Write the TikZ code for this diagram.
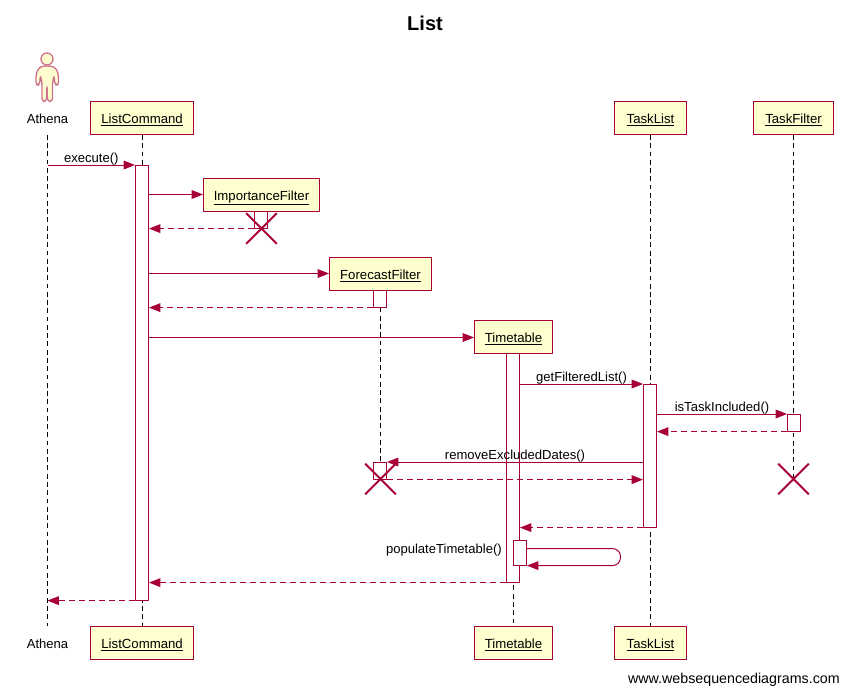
\documentclass[tikz,border=0pt]{standalone}
\usepackage{fontspec}
\setmainfont{Liberation Sans}
\usetikzlibrary{arrows.meta,shapes.misc}
\definecolor{seqline}{HTML}{A80036}
\definecolor{seqfill}{HTML}{FEFECE}
\tikzset{
  objbox/.style={draw=seqline, fill=seqfill, line width=0.75pt, minimum height=24.75pt, inner sep=0pt, text height=7.5pt, text depth=0pt, text=black, font=\fontsize{9.9}{12}\selectfont},
  actorname/.style={minimum height=24.75pt, inner sep=0pt, text height=7.5pt, text depth=0pt},
  actbar/.style={draw=seqline, fill=white, line width=0.75pt, minimum width=9.75pt, inner sep=0pt},
  lifeline/.style={black, line width=0.75pt, dash pattern=on 3.6pt off 2.6pt},
  msg/.style={seqline, line width=0.75pt, -{Triangle[length=8.5pt,width=6.5pt]}},
  reply/.style={msg, dash pattern=on 4.5pt off 3pt},
  killmark/.style={cross out, draw=seqline, line width=1.5pt, minimum size=21.5pt, inner sep=0pt},
  msglabel/.style={inner sep=0pt, text depth=0pt, text=black}
}
\newcommand{\objname}[1]{\underline{#1}}
\begin{document}
\begin{tikzpicture}[x=0.75pt,y=-0.75pt, font=\fontsize{9.8}{12}\selectfont, line join=round]
  \useasboundingbox (0,0) rectangle (849,693);
  \node[font=\bfseries\fontsize{15}{18}\selectfont] (title) at (425,23) {List};

  % Actor.
  \draw[seqline!55, fill=seqfill, line width=1pt] (47,59) circle (6);
  \draw[seqline!55, fill=seqfill, line width=1pt, rounded corners=2.2pt]
    (43,66) -- (38.5,68) -- (36,75) -- (36,85) -- (39.5,85) -- (40.5,75)
    -- (42,83) -- (42,101.5) -- (46.5,101.5) -- (47,85) -- (47.5,101.5) -- (52.5,101.5)
    -- (52.5,83) -- (54,75) -- (55,85) -- (58.5,85) -- (58.5,75) -- (56,68) -- (51,66) -- cycle;
  \node[actorname] (athenatop) at (47.5,118) {Athena};
  \node[actorname] (athenabot) at (47.5,643) {Athena};

  % Top and bottom boxes.
  \node[objbox, minimum width=77.25pt] (listtop) at (142.1,118) {\objname{ListCommand}};
  \node[objbox, minimum width=77.25pt] (listbot) at (142.1,643) {\objname{ListCommand}};
  \node[objbox, minimum width=54pt] (tasktop) at (650.5,118) {\objname{TaskList}};
  \node[objbox, minimum width=54pt] (taskbot) at (650.5,643) {\objname{TaskList}};
  \node[objbox, minimum width=60pt] (filtertop) at (793.5,118) {\objname{TaskFilter}};
  \node[objbox, minimum width=58.5pt] (timebot) at (513.5,643) {\objname{Timetable}};
  % Created along the way.
  \node[objbox, minimum width=87pt] (importance) at (261.5,195) {\objname{ImportanceFilter}};
  \node[objbox, minimum width=76.5pt] (forecast) at (380.5,274) {\objname{ForecastFilter}};
  \node[objbox, minimum width=58.5pt] (timetop) at (513.5,337) {\objname{Timetable}};

  % Ends of the broken lifelines.
  \coordinate (forecastend) at (380.5,462);
  \coordinate (filterend) at (793.5,479);

  % Lifelines.
  \draw[lifeline] (athenatop.south) -- (athenabot.north);
  \draw[lifeline] (listtop) -- (listbot);
  \draw[lifeline] (tasktop) -- (taskbot);
  \draw[lifeline] (filtertop) -- (filterend);
  \draw[lifeline] (forecast) -- (forecastend);
  \draw[lifeline] (timetop) -- (timebot);

  % Activation bars.
  \node[actbar, minimum height=325.95pt] (listbar) at (142,382.8) {};
  \node[actbar, minimum height=12.45pt] (importancebar) at (261,219.8) {};
  \node[actbar, minimum height=12.45pt] (forecastbar) at (380,298.8) {};
  \node[actbar, minimum height=12.45pt] (forecastbarb) at (380,470.8) {};
  \node[actbar, minimum height=171.45pt] (timebar) at (513,467.8) {};
  \node[actbar, minimum height=18.45pt] (timeself) at (520,552.8) {};
  \node[actbar, minimum height=106.95pt] (taskbar) at (650,455.8) {};
  \node[actbar, minimum height=12.45pt] (filterbar) at (794,422.8) {};

  % Messages.
  \draw[msg] (athenatop.south |- listbar.north) -- (listbar.north west) node[msglabel, midway, above=1.6pt] (executelabel) {execute()};
  \draw[msg] ([yshift=.375pt]listbar.east |- importance.west) -- ([yshift=.375pt]importance.west);
  \draw[reply] (importancebar.south west) -- (listbar.east |- importancebar.south);
  \draw[msg] ([yshift=.375pt]listbar.east |- forecast.west) -- ([yshift=.375pt]forecast.west);
  \draw[reply] (forecastbar.south west) -- (listbar.east |- forecastbar.south);
  \draw[msg] ([yshift=-.375pt]listbar.east |- timetop.west) -- ([yshift=-.375pt]timetop.west);
  \draw[msg] (timebar.east |- taskbar.north) -- (taskbar.north west) node[msglabel, midway, above=1.6pt] (filteredlabel) {getFilteredList()};
  \draw[msg] (taskbar.east |- filterbar.north) -- (filterbar.north west) node[msglabel, midway, above=1.6pt] (includedlabel) {isTaskIncluded()};
  \draw[reply] (filterbar.south west) -- (taskbar.east |- filterbar.south);
  \draw[msg] (taskbar.west |- forecastbarb.north) -- (forecastbarb.north east) node[msglabel, midway, above=1.6pt] (removelabel) {removeExcludedDates()};
  \draw[reply] (forecastbarb.south east) -- (taskbar.west |- forecastbarb.south);
  \draw[reply] (taskbar.south west) -- (timebar.east |- taskbar.south);
  \coordinate (selfturn) at (620.5,548.5);
  \draw[msg, rounded corners=6pt] (timeself.east |- selfturn) -- (selfturn) -- (selfturn |- timeself.south) -- (timeself.south east);
  \node[msglabel, anchor=base east] (populatelabel) at (502,553) {populateTimetable()};
  \draw[reply] (timebar.south west) -- (listbar.east |- timebar.south);
  \draw[reply] (listbar.south west) -- (athenatop.south |- listbar.south);

  % Destroyed objects.
  \node[killmark] (importancekill) at (261.5,228.5) {};
  \node[killmark] (forecastkill) at (380.5,479) {};
  \node[killmark] (filterkill) at (793.5,479) {};

  \node[anchor=base east, inner sep=0pt, font=\fontsize{10.7}{12}\selectfont] (sitename) at (840,683) {www.websequencediagrams.com};
\end{tikzpicture}
\end{document}
